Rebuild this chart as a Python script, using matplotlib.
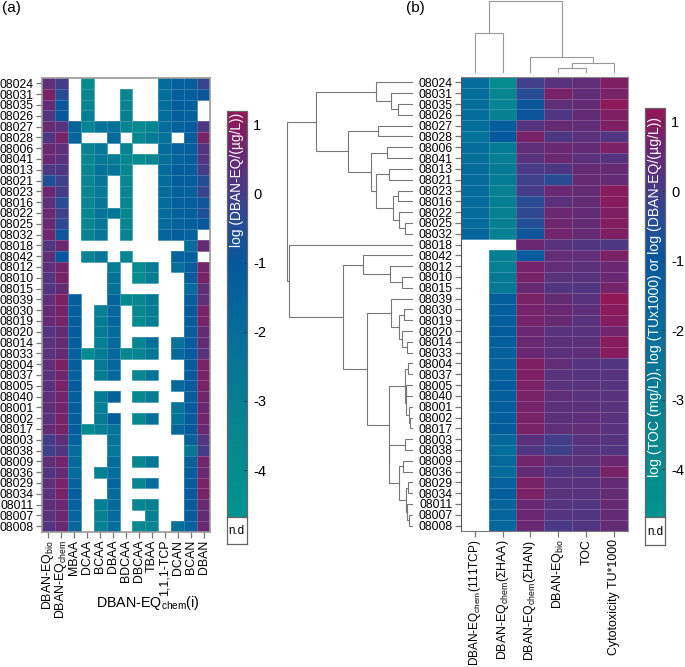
import matplotlib
matplotlib.use("Agg")
import matplotlib.pyplot as plt
import numpy as np
from matplotlib.colors import LinearSegmentedColormap, Normalize

plt.rcParams['font.family'] = ['Liberation Sans', 'DejaVu Sans']
plt.rcParams['mathtext.default'] = 'regular'
plt.rcParams['axes.unicode_minus'] = False

N = np.nan

samples = ["08024", "08031", "08035", "08026", "08027", "08028", "08006", "08041", "08013", "08021",
           "08023", "08016", "08022", "08025", "08032", "08018", "08042", "08012", "08010", "08015",
           "08039", "08030", "08019", "08020", "08014", "08033", "08004", "08037", "08005", "08040",
           "08001", "08002", "08017", "08003", "08038", "08009", "08036", "08029", "08034", "08011",
           "08007", "08008"]

left_columns = ["DBAN-EQ$_{bio}$", "DBAN-EQ$_{chem}$", "MBAA", "DCAA", "BCAA", "DBAA", "BDCAA",
                "DBCAA", "TBAA", "1,1,1-TCP", "DCAN", "BCAN", "DBAN"]
right_columns = ["DBAN-EQ$_{chem}$(111TCP)", "DBAN-EQ$_{chem}$(ΣHAA)", "DBAN-EQ$_{chem}$(ΣHAN)",
                 "DBAN-EQ$_{bio}$", "TOC", "Cytotoxicity TU*1000"]

left_values = [
    [.4, 0, N, -3.9, N, N, N, N, N, -1.9, -1.4, -1.3, -.2],
    [.8, -.4, N, -3.3, N, N, -3.4, N, N, -2, -1.3, -1.3, -.9],
    [.5, -.9, N, -3.3, N, N, -3.3, N, N, -2, -1.2, -1.3, N],
    [.2, -.9, N, -3.0, N, N, -3.2, N, N, -2, -1.3, -1.4, N],
    [.5, .3, -1.6, -3.3, -2.4, -2.2, -3.3, -3.9, -3.4, -2, -1.4, -1.2, .1],
    [.1, .8, -1.6, N, N, -1.8, N, -3.8, -2.8, -2.3, N, -1.3, .8],
    [.6, .4, N, -3.3, -2.6, N, -3.3, N, N, -1.9, -1.5, -1.3, .2],
    [.6, .3, N, -3.5, -2.6, -2.8, -3.5, -4, -3.6, -2.1, -1.6, -1.3, .2],
    [.1, .1, N, -3.5, -2.3, -2.4, -3.4, N, N, -1.9, -1.3, -1.3, 0],
    [-.6, -.1, N, -3.5, -2.5, N, -3.4, N, N, -1.9, -1.3, -1.3, -.5],
    [.6, 0, N, -3.6, -2.7, N, -3.5, N, N, -1.9, -1.4, -1.4, -.2],
    [.4, -.4, N, -3.4, -2.5, N, -3.5, N, N, -1.9, -1.4, -1.3, -.8],
    [.6, -.1, N, -3.6, -2.4, -2.5, -3.5, N, N, -1.9, -1.5, -1.3, -.6],
    [.6, -.3, N, -3.5, -2.6, N, -3.4, N, N, -1.9, -1.5, -1.3, -1],
    [.7, -.8, N, -3.3, -2.5, N, -3.3, N, N, -1.6, -1.3, -1.5, N],
    [.2, .6, N, N, N, N, N, N, N, N, N, -2.0, .5],
    [.4, -1, N, -3.3, -2.6, N, -3.3, N, N, N, -1.5, -1.4, N],
    [.4, .7, N, N, N, -2.8, N, -3.9, -2.9, N, -2.1, -1.3, .7],
    [.2, .8, N, N, N, -2.2, N, -4, -2.9, N, N, -1.3, .8],
    [.2, .5, N, N, N, -2.2, N, N, N, N, N, -2, .4],
    [.4, .9, -1.3, N, N, -1.5, -3.7, -3.5, -2.7, N, N, -1.3, .4],
    [.5, .8, -1.3, N, -3, -1.7, N, -3.5, -2.8, N, N, -1.1, .8],
    [.5, .8, -1.3, N, -2.9, -1.6, N, -3.9, -3, N, N, -1.3, .8],
    [.2, .5, -1.2, N, -2.7, -1.9, N, N, N, N, N, -1.3, .5],
    [.3, .5, -1.3, N, -3, -1.8, N, -3.4, -2.2, N, -2.3, -1.3, .5],
    [.3, .5, -1.4, -3.9, -2.8, -1.8, -3.5, -3.4, -2.5, N, -1.8, -1.2, .3],
    [.4, .9, -1.3, N, -2.7, -1.7, N, N, N, N, N, -1.2, .8],
    [.3, .7, -1.4, N, -2.9, -1.7, N, -3.5, -2.3, N, N, -1.2, .8],
    [.3, .8, -1.1, N, N, N, N, N, N, N, -1.8, -1.2, .8],
    [.4, .7, -1.3, N, -2.8, -1.4, N, -3.8, -2.8, N, N, -1.3, .7],
    [.4, .7, -1.3, N, -3, N, N, N, N, N, -2.4, -1.2, .6],
    [.3, .8, -1.3, N, -2.7, -1.3, N, -3.7, -2.1, N, -2.3, -1.2, .7],
    [.5, .8, -1.2, -3.9, -3, -2.3, N, N, N, N, -1.7, -1.1, .6],
    [0, .4, -1.5, N, N, -2.4, N, N, N, N, N, -1.5, .2],
    [-.1, .2, -1.9, N, N, -2.6, N, N, N, N, N, -2.6, 0],
    [.4, .7, -1.8, N, N, -1.9, N, -3.6, -2.6, N, N, -1.4, .7],
    [.2, .5, -1.9, N, -3.2, -2.0, N, N, N, N, N, -1.3, .6],
    [.4, .8, -1.5, N, N, -1.6, N, -3.4, -2, N, N, -1.2, .8],
    [.3, .8, -1.3, N, N, -1.9, N, N, N, N, N, -1.2, .8],
    [.4, .6, -1.5, N, -3, -1.8, N, -3.6, -3, N, N, -1.2, .6],
    [.3, .6, -1.6, N, -3.2, -1.8, N, N, -3.2, N, N, -1.2, .5],
    [.2, .6, -1.7, N, -3.1, -2, N, -3.8, -3.4, N, -2.1, -1.5, .6],
]

right_values = [
    [-2, -3.9, -.1, .3, .45, .9],
    [-2, -3.4, -.4, .8, .45, .8],
    [-2, -3.3, -.9, .4, .5, 1.1],
    [-2, -3.2, -.9, .15, .5, .9],
    [-2, -1.3, .25, .55, .45, .9],
    [-2.3, -1.0, .8, .1, .35, .2],
    [-2, -2.8, .4, .6, .5, .85],
    [-2.1, -3.0, .3, .6, .35, .25],
    [-1.9, -2.7, .05, .1, .5, .55],
    [-1.9, -2.9, -.1, -.4, .55, .5],
    [-1.9, -3.1, 0, .6, .5, 1],
    [-1.9, -3.0, -.4, .35, .5, 1],
    [-1.9, -3.1, -.3, .6, .5, .9],
    [-1.9, -3.1, -.5, .65, .5, .95],
    [-1.6, -3.1, -.8, .7, .55, .9],
    [N, N, .6, .3, .2, .1],
    [N, -3, -1.2, .45, .45, .85],
    [N, -3.0, .75, .45, .35, .6],
    [N, -2.7, .8, .3, .3, .6],
    [N, -2.7, .55, .2, .2, .75],
    [N, -1.3, .8, .5, .3, 1.15],
    [N, -1.3, .75, .6, .4, 1.05],
    [N, -1.3, .75, .55, .3, .95],
    [N, -1.1, .6, .3, .3, .7],
    [N, -1.3, .6, .35, .35, 1],
    [N, -1.4, .6, .35, .4, 1],
    [N, -1.4, .9, .45, .25, .2],
    [N, -1.4, .9, .3, .25, .25],
    [N, -1.2, .85, .3, .3, .25],
    [N, -1.3, .8, .4, .3, .3],
    [N, -1.3, .75, .35, .35, .3],
    [N, -1.3, .8, .35, .4, .3],
    [N, -1.2, .8, .4, .45, .3],
    [N, -1.7, .35, 0, .3, .25],
    [N, -2, .15, -.1, .25, .2],
    [N, -1.8, .7, .35, .35, .6],
    [N, -1.9, .5, .15, .2, .8],
    [N, -1.5, .8, .3, .3, .5],
    [N, -1.3, .85, .3, .3, .5],
    [N, -1.6, .6, .25, .2, .55],
    [N, -1.6, .6, .25, .2, .5],
    [N, -1.7, .6, .05, .2, .5],
]

# clustering trees: (merge height, child, child)
top_cluster = (97,
    (37, "08024", (22, "08031", (15, "08035", "08026"))),
    (65, (35, "08027", "08028"),
         (42, (26, "08006", "08041"),
              (37.3, (24.3, "08013", "08021"),
                     (20.3, (15.3, "08023", "08016"),
                            (13.7, "08022", (8, "08025", "08032")))))))
lower_first = (46,
    (21.7, "08039", (13.7, (9.3, "08030", "08019"), (11.3, "08020", (6.3, "08014", "08033")))),
    (24.3, (8, (5, "08004", "08037"),
               (7, (6.5, "08005", "08040"), (4, "08001", (2.7, "08002", "08017")))),
           (24, (7.5, "08003", "08038"),
                (14.3, (9.7, "08009", "08036"),
                       (7.3, (4.7, "08029", "08034"), (5.5, "08011", (4, "08007", "08008")))))))
row_tree = (126, top_cluster,
            (123.7, "08018", (70, (50, "08042", (23, "08012", (11, "08010", "08015"))), lower_first)))
col_tree = (72, (40, 0, 1), (16, 2, (9.4, (4.4, 3, 4), 5)))

cbar_ticks = [1, 0, -1, -2, -3, -4]
cmap_stops = [-4.68, -3.5, -2, -1, -0.35, 0.1, 0.55, 1.2]
cmap_colors = ["#00938f", "#07868f", "#056d9b", "#05589c", "#2b4a92", "#4c3884", "#662a73", "#931656"]

W, H = 685, 667


def px_axes(x0, y0, x1, y1):
    # axes from picture pixels, y counted from the top
    return fig.add_axes([x0 / W, 1 - y1 / H, (x1 - x0) / W, (y1 - y0) / H])


def draw_row_tree(ax, node):
    if isinstance(node, str):
        return 0, samples.index(node)
    h, a, b = node
    ha, ya = draw_row_tree(ax, a)
    hb, yb = draw_row_tree(ax, b)
    ax.plot([ha, h, h, hb], [ya, ya, yb, yb], color="#777777", lw=0.8, solid_joinstyle="miter")
    return h, (ya + yb) / 2


def draw_col_tree(ax, node):
    if isinstance(node, int):
        return node, 0
    h, a, b = node
    xa, ha = draw_col_tree(ax, a)
    xb, hb = draw_col_tree(ax, b)
    ax.plot([xa, xa, xb, xb], [ha, h, h, hb], color="#999999", lw=0.8, solid_joinstyle="miter")
    return (xa + xb) / 2, h


def heatmap(ax, values, columns, label_size):
    data = np.ma.masked_invalid(np.array(values, dtype=float))
    ax.pcolormesh(np.arange(data.shape[1] + 1) - 0.5, np.arange(data.shape[0] + 1) - 0.5, data,
                  cmap=cmap, norm=norm, edgecolors=(1, 1, 1, 0.18), linewidth=0.4)
    ax.set_xlim(-0.5, data.shape[1] - 0.5)
    ax.set_ylim(data.shape[0] - 0.5, -0.5)
    ax.set_yticks(range(len(samples)))
    ax.set_yticklabels(samples, fontsize=8.8)
    ax.set_xticks(range(len(columns)))
    ax.set_xticklabels(columns, rotation=90, fontsize=label_size)
    ax.tick_params(axis="both", length=4.5, width=0.9, color="#777777", pad=1.5)


def color_bar(x0, x1, y0, y1, y_nd, mesh_label, label_y, label_size):
    cax = px_axes(x0, y0, x1, y1)
    sm = plt.cm.ScalarMappable(norm=norm, cmap=cmap)
    cb = fig.colorbar(sm, cax=cax)
    cb.set_ticks(cbar_ticks)
    cb.ax.tick_params(labelsize=10.5, length=2, width=0.6, direction="in", pad=4.5, color="#333333")
    cb.outline.set_edgecolor("#666666")
    cb.outline.set_linewidth(0.9)
    fig.text((x0 + x1) / 2 / W, 1 - label_y / H, mesh_label, rotation=90, color="white",
             ha="center", va="top", fontsize=label_size)
    nd = px_axes(x0, y1, x1, y_nd)
    nd.set_xticks([])
    nd.set_yticks([])
    for s in nd.spines.values():
        s.set_color("#666666")
        s.set_linewidth(0.9)
    nd.text(0.5, 0.47, "n.d", ha="center", va="center", fontsize=8.4, transform=nd.transAxes)


cmap = LinearSegmentedColormap.from_list(
    "dban", [((v - cmap_stops[0]) / (cmap_stops[-1] - cmap_stops[0]), c) for v, c in zip(cmap_stops, cmap_colors)])
norm = Normalize(cmap_stops[0], cmap_stops[-1])

fig = plt.figure(figsize=(W / 100, H / 100), dpi=100)

# panel a
ax_a = px_axes(42, 78, 210, 531.5)
heatmap(ax_a, left_values, left_columns, 8.9)
for s in ax_a.spines.values():
    s.set_color("#999999")
    s.set_linewidth(1.2)
color_bar(226.7, 246.7, 110.7, 517, 544, "log (DBAN-EQ/(µg/L))", 113, 9.9)
fig.text(2 / W, 1 - 8 / H, "(a)", fontsize=11, ha="left", va="center")
fig.text(148 / W, 1 - 603 / H, "DBAN-EQ$_{chem}$(i)", fontsize=10.3, ha="center", va="center")

# panel b
ax_b = px_axes(460.7, 77, 628, 531)
heatmap(ax_b, right_values, right_columns, 8.9)
ax_b.get_xticklabels()[0].set_fontsize(8.5)
ax_b.spines["top"].set_color("#888888")
ax_b.spines["right"].set_color("#999999")
ax_b.spines["left"].set_color("#555555")
ax_b.spines["bottom"].set_color("#777777")
color_bar(645, 665, 108, 516.7, 545, "log (TOC (mg/L)), log (TUx1000) or log (DBAN-EQ/(µg/L))", 117, 10.1)
fig.text(415 / W, 1 - 8 / H, "(b)", fontsize=11, ha="center", va="center")

ax_rows = px_axes(285, 77, 413, 531)
draw_row_tree(ax_rows, row_tree)
ax_rows.set_xlim(128, 0)
ax_rows.set_ylim(len(samples) - 0.5, -0.5)
ax_rows.axis("off")

ax_cols = px_axes(460.7, 0, 628, 72.7)
draw_col_tree(ax_cols, col_tree)
ax_cols.set_xlim(-0.5, 5.5)
ax_cols.set_ylim(0, 72.7)
ax_cols.axis("off")

fig.savefig("out.png", dpi=100)
